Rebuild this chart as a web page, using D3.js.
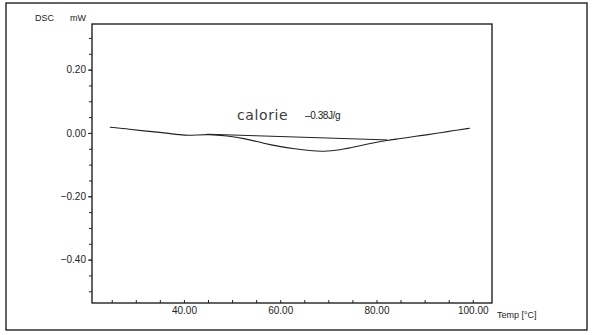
<!DOCTYPE html>
<html>
<head>
<meta charset="utf-8">
<script src="https://cdn.jsdelivr.net/npm/d3@7"></script>
<style>
  body { margin: 0; background: #fff; }
  svg { display: block; font-family: "Liberation Sans", Arial, sans-serif; }
</style>
</head>
<body>
<div id="chart"></div>
<script>
// DSC trace, temperature (°C) vs heat flow (mW)
const temps = [24.6, 28.8, 32.3, 35.0, 37.5, 40.2, 42.5, 44.8, 49.1, 52.7, 56.4, 59.9, 63.0, 66.2, 68.9, 72.4, 75.9, 79.0, 82.2, 84.9, 88.4, 90.5, 93.8, 95.9, 99.4];
const flow = [0.018, 0.012, 0.005, 0.002, -0.003, -0.008, -0.007, -0.004, -0.009, -0.018, -0.032, -0.043, -0.050, -0.056, -0.059, -0.054, -0.043, -0.032, -0.023, -0.018, -0.010, -0.006, 0.002, 0.007, 0.015];
// integration baseline
const baseT = [44.8, 82.2];
const baseV = [-0.004, -0.022];

const xTicks = [40, 60, 80, 100];
const yTicks = [0.2, 0, -0.2, -0.4];

const W = 593, H = 335;
const margin = { top: 24, right: 101, bottom: 32, left: 92 };

const svg = d3.select("#chart").append("svg")
  .attr("width", W)
  .attr("height", H);

// outer frame
svg.append("rect")
  .attr("x", 6).attr("y", 3)
  .attr("width", 581).attr("height", 327)
  .attr("fill", "none")
  .attr("stroke", "#111")
  .attr("stroke-width", 1.3);

const x = d3.scaleLinear().domain([20.9, 104]).range([margin.left, W - margin.right]);
const y = d3.scaleLinear().domain([-0.537, 0.344]).range([H - margin.bottom, margin.top]);

// plot frame
svg.append("rect")
  .attr("x", margin.left).attr("y", margin.top)
  .attr("width", W - margin.left - margin.right)
  .attr("height", H - margin.top - margin.bottom)
  .attr("fill", "none")
  .attr("stroke", "#111")
  .attr("stroke-width", 1.3);

const fmt = d3.format(".2f");
const minus = s => s.replace("-", "\u2013");

// y axis: ticks outward, minor every 0.05
svg.append("g")
  .attr("transform", `translate(${margin.left},0)`)
  .call(d3.axisLeft(y).tickValues(d3.range(-0.5, 0.35, 0.05)).tickSize(3).tickFormat(""))
  .call(g => g.select(".domain").remove())
  .call(g => g.selectAll("line").attr("stroke", "#222"));

svg.append("g")
  .attr("transform", `translate(${margin.left},0)`)
  .call(d3.axisLeft(y).tickValues(yTicks).tickSize(4).tickPadding(2).tickFormat(d => minus(fmt(d))))
  .call(g => g.select(".domain").remove())
  .call(g => g.selectAll("line").attr("stroke", "#222"))
  .call(g => g.selectAll("text").attr("font-size", 10).attr("fill", "#222").attr("font-family", "Liberation Sans, Arial, sans-serif"));

// x axis: ticks inward, minor every 5
const xb = H - margin.bottom;
svg.append("g")
  .attr("transform", `translate(0,${xb})`)
  .call(d3.axisTop(x).tickValues(d3.range(25, 104, 5)).tickSize(3).tickFormat(""))
  .call(g => g.select(".domain").remove())
  .call(g => g.selectAll("line").attr("stroke", "#222"));

svg.append("g")
  .attr("transform", `translate(0,${xb})`)
  .call(d3.axisBottom(x).tickValues(xTicks).tickSize(0).tickPadding(4).tickFormat(d => fmt(d)))
  .call(g => g.select(".domain").remove())
  .call(g => g.selectAll("text").attr("font-size", 10).attr("fill", "#222").attr("font-family", "Liberation Sans, Arial, sans-serif"));

// axis titles
svg.append("text").attr("x", 35).attr("y", 21).attr("font-size", 9).attr("fill", "#222").text("DSC");
svg.append("text").attr("x", 70).attr("y", 21).attr("font-size", 9).attr("fill", "#222").text("mW");
svg.append("text").attr("x", 497).attr("y", 318).attr("font-size", 9).attr("fill", "#222").text("Temp [\u00B0C]");

// curve
const line = d3.line()
  .x(d => x(d[0]))
  .y(d => y(d[1]))
  .curve(d3.curveBasis);

svg.append("path")
  .datum(temps.map((t, i) => [t, flow[i]]))
  .attr("d", line)
  .attr("fill", "none")
  .attr("stroke", "#222")
  .attr("stroke-width", 1.1);

svg.append("path")
  .datum(baseT.map((t, i) => [t, baseV[i]]))
  .attr("d", d3.line().x(d => x(d[0])).y(d => y(d[1])))
  .attr("fill", "none")
  .attr("stroke", "#222")
  .attr("stroke-width", 1);

// annotation
svg.append("text")
  .attr("x", 237).attr("y", 120)
  .attr("font-size", 14)
  .attr("letter-spacing", 0.6)
  .attr("fill", "#3a3a3a")
  .attr("font-family", "DejaVu Sans, sans-serif")
  .text("calorie");
svg.append("text")
  .attr("x", 305).attr("y", 119)
  .attr("font-size", 10)
  .attr("letter-spacing", -0.4)
  .attr("fill", "#222")
  .text("\u20130.38J/g");
</script>
</body>
</html>
